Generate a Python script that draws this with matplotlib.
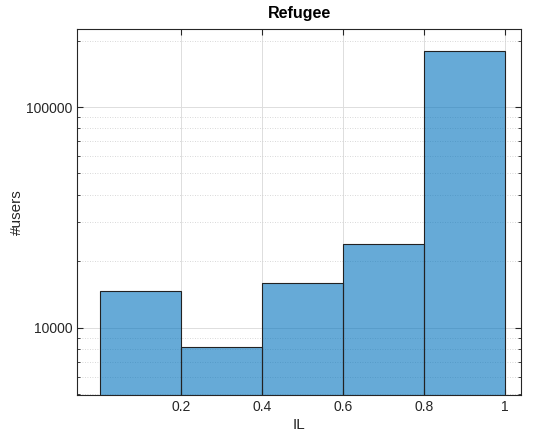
import matplotlib.pyplot as plt
from matplotlib.ticker import LogLocator, NullFormatter, FixedLocator

plt.rcParams['font.family'] = ['Liberation Sans', 'DejaVu Sans']

bin_edges = [0.0, 0.2, 0.4, 0.6, 0.8, 1.0]
user_counts = [14700, 8160, 16000, 24000, 180000]
x_ticks = [0.2, 0.4, 0.6, 0.8, 1.0]
x_tick_labels = ['0.2', '0.4', '0.6', '0.8', '1']

fig = plt.figure(figsize=(5.47, 4.32), dpi=100)
ax = fig.add_axes([0.1408, 0.0856, 0.8117, 0.8473])

widths = [b - a for a, b in zip(bin_edges[:-1], bin_edges[1:])]
ax.bar(bin_edges[:-1], user_counts, width=widths, align='edge',
       color='#0072BD', alpha=0.6, edgecolor='none', zorder=2)
ax.bar(bin_edges[:-1], user_counts, width=widths, align='edge',
       facecolor='none', edgecolor='#222222', linewidth=0.8, zorder=3)

ax.set_yscale('log')
ax.set_xlim(-0.058, 1.04)
ax.set_ylim(4950, 226000)

ax.xaxis.set_major_locator(FixedLocator(x_ticks))
ax.set_xticklabels(x_tick_labels)
ax.yaxis.set_major_locator(FixedLocator([10000, 100000]))
ax.set_yticklabels(['10000', '100000'])
ax.yaxis.set_minor_locator(LogLocator(base=10, subs=range(2, 10)))
ax.yaxis.set_minor_formatter(NullFormatter())

ax.grid(True, which='major', color='#dddddd', linewidth=0.7, zorder=0)
ax.grid(True, which='minor', axis='y', color='#cccccc', linestyle=(0, (1, 2)),
        linewidth=0.6, zorder=0)
ax.set_axisbelow(True)

for s in ax.spines.values():
    s.set_color('#262626')
    s.set_linewidth(0.8)
ax.tick_params(which='both', direction='in', top=True, right=True,
               colors='#262626', labelsize=10)
ax.tick_params(which='major', length=4)
ax.tick_params(which='minor', length=2.5)

ax.set_title('Refugee', fontsize=11.5, fontweight='bold', pad=8)
ax.set_xlabel('IL', fontsize=11, color='#262626', labelpad=3)
ax.set_ylabel('#users', fontsize=11, color='#262626', labelpad=1)

fig.savefig('out.png', dpi=100)
